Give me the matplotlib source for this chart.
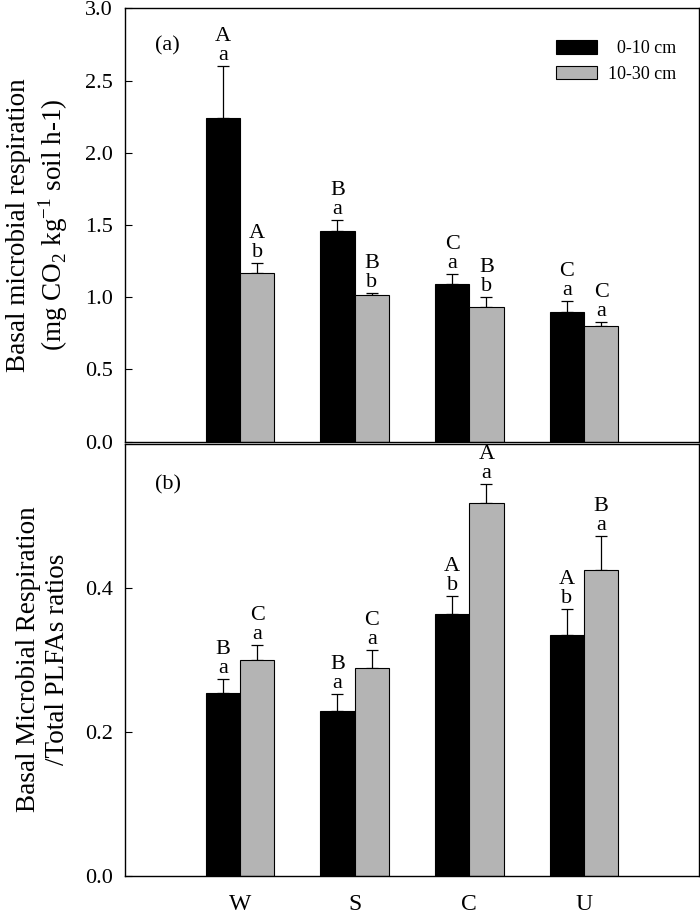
import numpy as np
import matplotlib
matplotlib.use('Agg')
from matplotlib import pyplot as plt
from matplotlib.patches import Patch

plt.rcParams['font.family'] = ['Liberation Serif', 'DejaVu Serif']
plt.rcParams['mathtext.fontset'] = 'custom'
plt.rcParams['mathtext.rm'] = 'Liberation Serif'

sites = ['W', 'S', 'C', 'U']
depths = ['  0-10 cm', '10-30 cm']

# (a) basal respiration
resp_top = [2.24, 1.46, 1.09, 0.90]
resp_top_err = [0.36, 0.075, 0.07, 0.077]
resp_sub = [1.17, 1.013, 0.932, 0.803]
resp_sub_err = [0.067, 0.014, 0.067, 0.026]
resp_upper = [['A', 'A'], ['B', 'B'], ['C', 'B'], ['C', 'C']]
resp_lower = [['a', 'b'], ['a', 'b'], ['a', 'b'], ['a', 'a']]

# (b) respiration / total PLFAs
ratio_top = [0.254, 0.229, 0.363, 0.334]
ratio_top_err = [0.019, 0.023, 0.026, 0.036]
ratio_sub = [0.299, 0.289, 0.518, 0.424]
ratio_sub_err = [0.021, 0.025, 0.026, 0.048]
ratio_upper = [['B', 'C'], ['B', 'C'], ['A', 'A'], ['A', 'B']]
ratio_lower = [['a', 'a'], ['a', 'a'], ['b', 'a'], ['b', 'a']]

BLACK = '#000000'
GREY = '#b4b4b4'
W = 0.3


def draw_panel(ax, top, top_err, sub, sub_err, upper, lower):
    x = np.arange(1, len(sites) + 1)
    series = [(x - W / 2, top, top_err, BLACK), (x + W / 2, sub, sub_err, GREY)]
    for j, (xs, vals, errs, col) in enumerate(series):
        ax.bar(xs, vals, W, color=col, edgecolor='black', linewidth=0.8, zorder=2)
        ax.errorbar(xs, vals, yerr=[np.zeros(len(vals)), errs], fmt='none',
                    ecolor='black', elinewidth=0.9, capsize=4, capthick=0.9, zorder=1)
        for i in range(len(vals)):
            ytop = vals[i] + errs[i]
            ax.annotate(lower[i][j], (xs[i], ytop), xytext=(0, 6), textcoords='offset pixels',
                        ha='center', va='baseline', fontsize=16)
            ax.annotate(upper[i][j], (xs[i], ytop), xytext=(0, 25), textcoords='offset pixels',
                        ha='center', va='baseline', fontsize=16)
    ax.set_xlim(0, 5)
    ax.tick_params(axis='y', direction='in', length=5, labelsize=16, pad=9)
    for s in ax.spines.values():
        s.set_linewidth(1.0)


fig = plt.figure(figsize=(7, 9.16), dpi=100)
ax1 = fig.add_axes([0.179, 0.5178, 0.819, 0.4731])
ax2 = fig.add_axes([0.179, 0.044, 0.819, 0.4718])

draw_panel(ax1, resp_top, resp_top_err, resp_sub, resp_sub_err, resp_upper, resp_lower)
ax1.set_ylim(0, 3.0)
ax1.set_yticks(np.arange(0, 3.01, 0.5))
ax1.yaxis.set_major_formatter(matplotlib.ticker.FormatStrFormatter('%.1f'))
ax1.set_xticks([])
ax1.set_ylabel('Basal microbial respiration\n(mg CO$_2$ kg$^{-1}$ soil h-1)',
               fontsize=19.5, linespacing=1.2, labelpad=11)
ax1.text(0.052, 0.914, '(a)', transform=ax1.transAxes, fontsize=16, ha='left', va='center')

handles = [Patch(facecolor=BLACK, edgecolor='black', linewidth=0.8),
           Patch(facecolor=GREY, edgecolor='black', linewidth=0.8)]
ax1.legend(handles, depths, loc='upper left', bbox_to_anchor=(0.751, 0.926), frameon=False,
           fontsize=13, handlelength=2.3, handleheight=0.75, handletextpad=0.6,
           labelspacing=0.45, borderpad=0, borderaxespad=0)

draw_panel(ax2, ratio_top, ratio_top_err, ratio_sub, ratio_sub_err, ratio_upper, ratio_lower)
ax2.set_ylim(0, 0.6)
ax2.set_yticks([0.0, 0.2, 0.4])
ax2.yaxis.set_major_formatter(matplotlib.ticker.FormatStrFormatter('%.1f'))
ax2.set_xticks(np.arange(1, len(sites) + 1))
ax2.set_xticklabels(sites)
ax2.tick_params(axis='x', length=0, pad=13, labelsize=17)
ax2.set_ylabel('Basal Microbial Respiration\n/Total PLFAs ratios',
               fontsize=19.5, linespacing=1.2, labelpad=11)
ax2.text(0.052, 0.904, '(b)', transform=ax2.transAxes, fontsize=16, ha='left', va='center')

fig.savefig('out.png', dpi=100)
